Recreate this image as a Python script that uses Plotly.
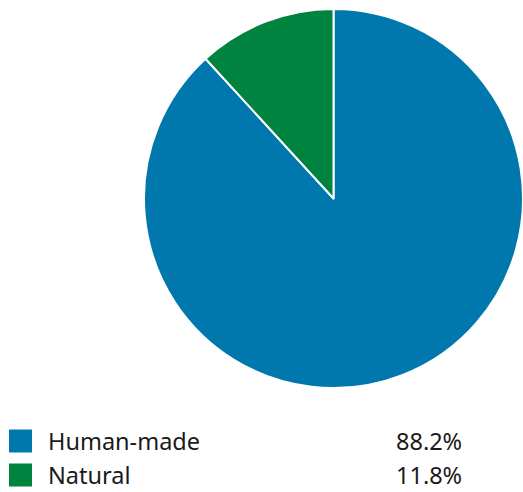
import plotly.graph_objects as go

# Share of sources
labels = ["Human-made", "Natural"]
values = [88.2, 11.8]
colors = ["#0078AD", "#00833F"]

W, H = 523, 492

fig = go.Figure(
    go.Pie(
        labels=labels,
        values=values,
        sort=False,
        direction="clockwise",
        rotation=0,
        marker=dict(colors=colors, line=dict(color="white", width=2)),
        textinfo="none",
        hoverinfo="label+percent",
        domain=dict(x=[144 / W, 523 / W], y=[1 - 389 / H, 1 - 8 / H]),
    )
)

# Legend rows drawn below the pie: swatch, label, value
row_y = [441, 475]
font = dict(family="Noto Sans", size=23.5, color="#1a1a1a")
for lab, val, col, yc in zip(labels, values, colors, row_y):
    fig.add_shape(
        type="rect", xref="paper", yref="paper",
        x0=9 / W, x1=32 / W, y0=1 - (yc + 11.5) / H, y1=1 - (yc - 11.5) / H,
        fillcolor=col, line=dict(width=0),
    )
    fig.add_annotation(
        x=46 / W, y=1 - yc / H, xref="paper", yref="paper",
        text=lab, showarrow=False, xanchor="left", yanchor="middle", font=font,
    )
    fig.add_annotation(
        x=464 / W, y=1 - yc / H, xref="paper", yref="paper",
        text=f"{val:.1f}%", showarrow=False, xanchor="right", yanchor="middle", font=font,
    )

fig.update_layout(
    width=W, height=H,
    margin=dict(l=0, r=0, t=0, b=0),
    showlegend=False,
    paper_bgcolor="white",
    plot_bgcolor="white",
)

fig.write_html("out.html")
